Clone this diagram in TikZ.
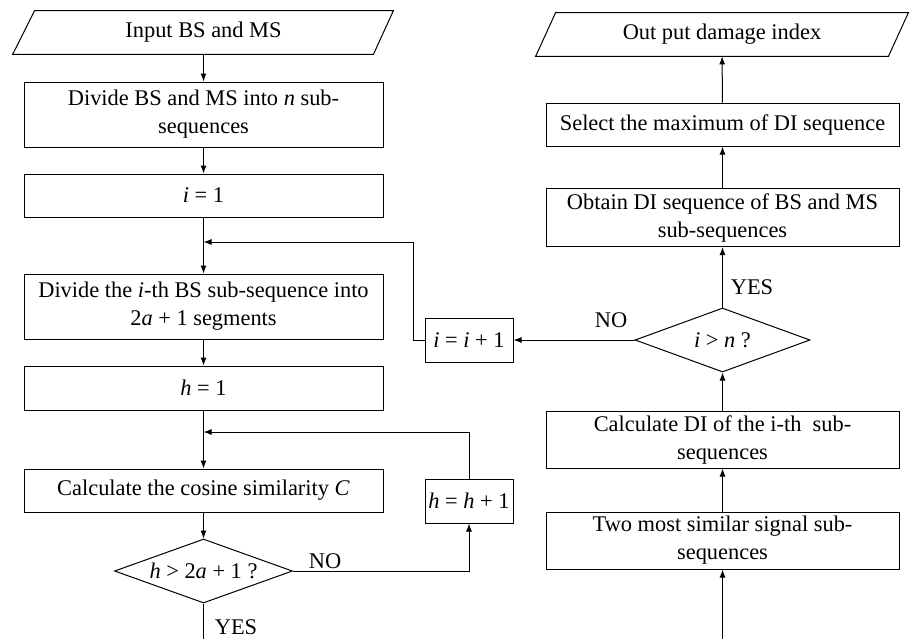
\documentclass[tikz,border=0pt]{standalone}
\usepackage{fontspec}
\setmainfont{Liberation Serif}
\usetikzlibrary{shapes.geometric,arrows.meta}
\begin{document}
\begin{tikzpicture}[x=0.5pt,y=-0.5pt,
  every node/.style={font=\fontsize{11.2}{14}\selectfont, inner sep=0pt},
  lbox/.style={draw, line width=0.5pt, minimum width=179.5pt, align=center},
  rbox/.style={draw, line width=0.5pt, minimum width=176.5pt, align=center},
  sbox/.style={draw, line width=0.5pt, minimum width=44pt, minimum height=22pt},
  dec/.style={draw, diamond, aspect=2.8, line width=0.5pt, minimum width=89pt, minimum height=32pt},
  arr/.style={-{Latex[length=4pt,width=3pt]}, line width=0.5pt},
  ln/.style={line width=0.5pt}]
\useasboundingbox (0,0) rectangle (913,639);

% left column
\node[minimum width=179.5pt, minimum height=21.5pt] (in) at (203.5,32.5) {Input BS and MS};
\draw[ln] ([xshift=-5.5pt]in.south west) -- ([xshift=5.5pt]in.north west) -- ([xshift=5pt]in.north east) -- ([xshift=-5pt]in.south east) -- cycle;
\node[lbox, minimum height=32.5pt] (b1) at (203.5,114.5) {Divide BS and MS into \textit{n} sub-\\sequences};
\node[lbox, minimum height=21.5pt] (b2) at (203.5,195.5) {\textit{i} = 1};
\node[lbox, minimum height=32.5pt] (b3) at (203.5,306.5) {Divide the \textit{i}-th BS sub-sequence into\\2\textit{a} + 1 segments};
\node[lbox, minimum height=22pt] (b4) at (203.5,388) {\textit{h} = 1};
\node[lbox, minimum height=21.5pt] (b5) at (203.5,490.5) {Calculate the cosine similarity \textit{C}};
\node[dec] (d1) at (203.5,571) {\textit{h} > 2\textit{a} + 1 ?};

% middle boxes
\node[sbox] (iinc) at (469,340) {\textit{i} = \textit{i} + 1};
\node[sbox] (hinc) at (469,501) {\textit{h} = \textit{h} + 1};

% right column
\node[minimum width=176pt, minimum height=21.5pt] (out) at (722,34.5) {Out put damage index};
\draw[ln] ([xshift=-5pt]out.south west) -- ([xshift=5pt]out.north west) -- ([xshift=5pt]out.north east) -- ([xshift=-5pt]out.south east) -- cycle;
\node[rbox, minimum height=21.5pt] (sel) at (722.5,124.5) {Select the maximum of DI sequence};
\node[rbox, minimum height=29pt] (ob) at (722.5,217.5) {Obtain DI sequence of BS and MS\\sub-sequences};
\node[dec, minimum width=87.5pt] (d2) at (722.5,340) {\textit{i} > \textit{n} ?};
\node[rbox, minimum height=28.5pt] (cd) at (722.5,439.5) {Calculate DI of the i-th\ \ sub-\\sequences};
\node[rbox, minimum height=28.5pt] (tw) at (722.5,540.5) {Two most similar signal sub-\\sequences};

% coordinates
\coordinate (ij) at (203.5,242);
\coordinate (ic) at (413,340);
\coordinate (hj) at (203.5,432);
\coordinate (bl) at (203.5,639);
\coordinate (br) at (722.5,639);

% connectors left
\draw[arr] (in) -- (b1);
\draw[arr] (b1) -- (b2);
\draw[arr] (b2) -- (b3);
\draw[arr] (b3) -- (b4);
\draw[arr] (b4) -- (b5);
\draw[arr] (b5) -- (d1);
\draw[ln] (d1.south) -- (bl);
\draw[arr] (d1.east) -| (hinc.south);
\draw[arr] (hinc.north) |- (hj);
\draw[arr] (iinc.west) -- (ic) |- (ij);

% connectors right
\draw[arr] (br) -- (tw);
\draw[arr] (tw) -- (cd);
\draw[arr] (cd) -- (d2);
\draw[arr] (d2.west) -- (iinc.east);
\draw[arr] (d2.north) -- (ob.south);
\draw[arr] (ob) -- (sel);
\draw[arr] (sel) -- (out);

% labels
\node (lno1) at (325,561) {NO};
\node (lyes1) at (236,627) {YES};
\node (lyes2) at (752,287) {YES};
\node (lno2) at (611,320) {NO};
\end{tikzpicture}
\end{document}
